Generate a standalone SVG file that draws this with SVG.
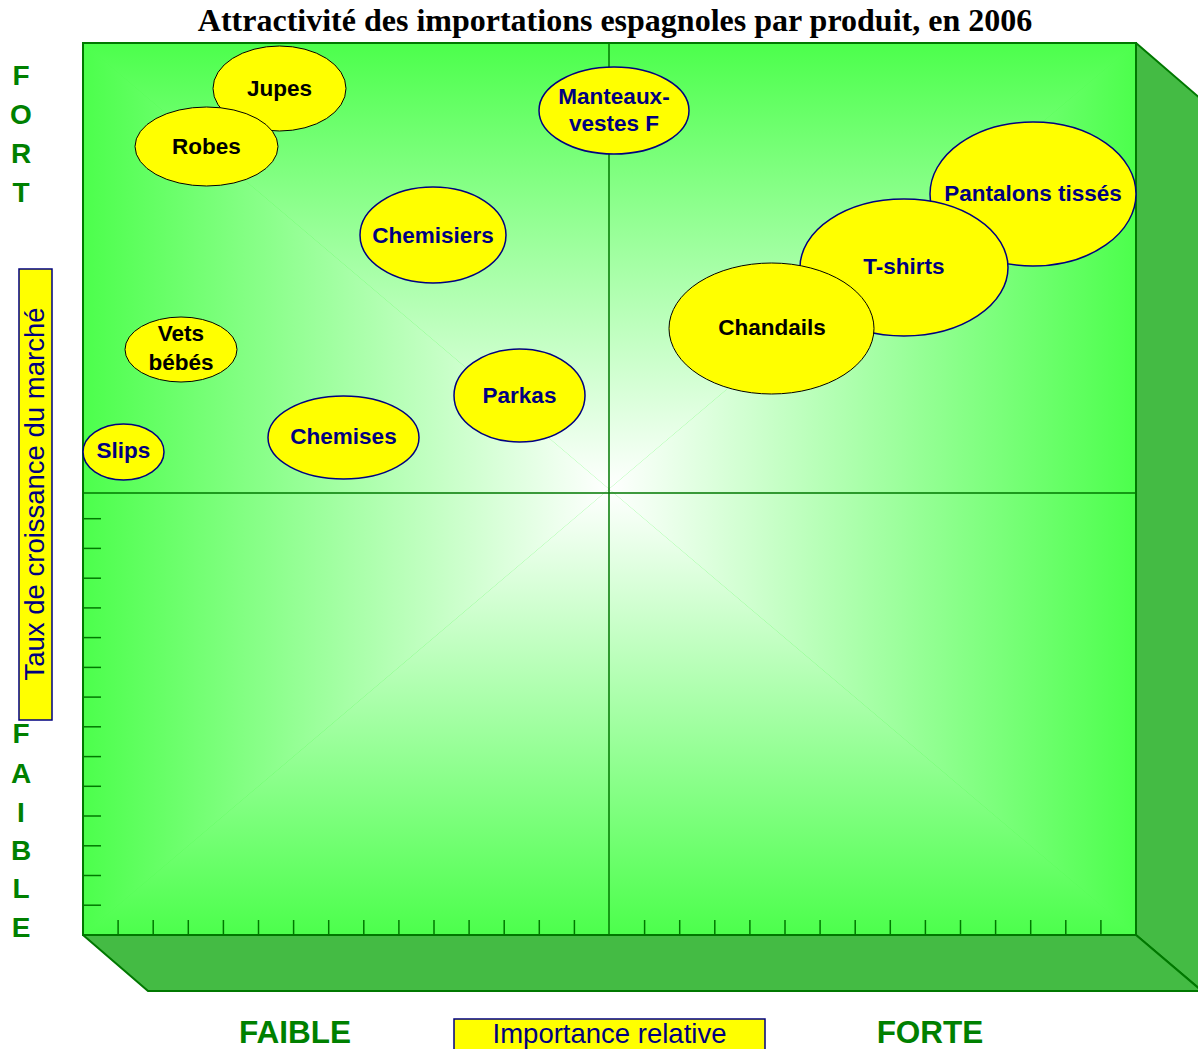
<svg xmlns="http://www.w3.org/2000/svg" width="1198" height="1049" viewBox="0 0 1198 1049">
<style>
.title{font-family:"Liberation Serif","Times New Roman",serif;font-weight:bold;font-size:32px;fill:#000}
.axl{font-family:"Liberation Sans",Arial,sans-serif;font-weight:bold;font-size:28px;fill:#008000}
.axb{font-family:"Liberation Sans",Arial,sans-serif;font-weight:bold;font-size:31.5px;fill:#008000}
.ax{font-family:"Liberation Sans",Arial,sans-serif;font-size:27.5px;fill:#000080}
.box{fill:#ffff00;stroke:#000080;stroke-width:1.5}
.side{fill:#44bb44;stroke:#007800;stroke-width:2;stroke-linejoin:round}
.grid{stroke:#007800;stroke-width:1.5;fill:none}
.tick{stroke:#007800;stroke-width:1.5}
.eb{fill:#ffff00;stroke:#000;stroke-width:1}
.en{fill:#ffff00;stroke:#000080;stroke-width:1.5}
.tb{font-family:"Liberation Sans",Arial,sans-serif;font-weight:bold;font-size:22.5px;fill:#000;text-anchor:middle}
.tn{font-family:"Liberation Sans",Arial,sans-serif;font-weight:bold;font-size:22.5px;fill:#000080;text-anchor:middle}
</style>
<defs>
<linearGradient id="gT" gradientUnits="userSpaceOnUse" x1="0" y1="43" x2="0" y2="489"><stop offset="0" stop-color="#4cff4c"/><stop offset="1" stop-color="#ffffff"/></linearGradient>
<linearGradient id="gB" gradientUnits="userSpaceOnUse" x1="0" y1="935" x2="0" y2="489"><stop offset="0" stop-color="#4cff4c"/><stop offset="1" stop-color="#ffffff"/></linearGradient>
<linearGradient id="gL" gradientUnits="userSpaceOnUse" x1="83" y1="0" x2="609" y2="0"><stop offset="0" stop-color="#4cff4c"/><stop offset="1" stop-color="#ffffff"/></linearGradient>
<linearGradient id="gR" gradientUnits="userSpaceOnUse" x1="1136" y1="0" x2="609" y2="0"><stop offset="0" stop-color="#4cff4c"/><stop offset="1" stop-color="#ffffff"/></linearGradient>
</defs>
<rect width="1198" height="1049" fill="#ffffff"/>
<text class="title" x="615" y="31" text-anchor="middle">Attractivité des importations espagnoles par produit, en 2006</text>

<g id="chart-frame">
<polygon class="side" points="1136,43 1202,100 1202,991 1136,935"/>
<polygon class="side" points="83,935 148,991 1202,991 1136,935"/>
<rect x="83" y="43" width="1053" height="892" fill="#4cff4c"/>
<polygon points="83,43 1136,43 609,489" fill="url(#gT)"/>
<polygon points="83,935 1136,935 609,489" fill="url(#gB)"/>
<polygon points="83,43 83,935 609,489" fill="url(#gL)"/>
<polygon points="1136,43 1136,935 609,489" fill="url(#gR)"/>
<rect x="83" y="43" width="1053" height="892" fill="none" stroke="#007800" stroke-width="2"/>
</g>

<g id="connectors">
<line class="grid" x1="609" y1="43" x2="609" y2="935"/>
<line class="grid" x1="83" y1="493" x2="1136" y2="493"/>
<g id="ticks-y">
<line class="tick" x1="83" y1="518.7" x2="101" y2="518.7"/>
<line class="tick" x1="83" y1="548.4" x2="101" y2="548.4"/>
<line class="tick" x1="83" y1="578.2" x2="101" y2="578.2"/>
<line class="tick" x1="83" y1="607.9" x2="101" y2="607.9"/>
<line class="tick" x1="83" y1="637.6" x2="101" y2="637.6"/>
<line class="tick" x1="83" y1="667.4" x2="101" y2="667.4"/>
<line class="tick" x1="83" y1="697.1" x2="101" y2="697.1"/>
<line class="tick" x1="83" y1="726.8" x2="101" y2="726.8"/>
<line class="tick" x1="83" y1="756.6" x2="101" y2="756.6"/>
<line class="tick" x1="83" y1="786.3" x2="101" y2="786.3"/>
<line class="tick" x1="83" y1="816.0" x2="101" y2="816.0"/>
<line class="tick" x1="83" y1="845.8" x2="101" y2="845.8"/>
<line class="tick" x1="83" y1="875.5" x2="101" y2="875.5"/>
<line class="tick" x1="83" y1="905.2" x2="101" y2="905.2"/>
</g>
<g id="ticks-x">
<line class="tick" x1="118.1" y1="920" x2="118.1" y2="935"/>
<line class="tick" x1="153.2" y1="920" x2="153.2" y2="935"/>
<line class="tick" x1="188.3" y1="920" x2="188.3" y2="935"/>
<line class="tick" x1="223.4" y1="920" x2="223.4" y2="935"/>
<line class="tick" x1="258.5" y1="920" x2="258.5" y2="935"/>
<line class="tick" x1="293.6" y1="920" x2="293.6" y2="935"/>
<line class="tick" x1="328.7" y1="920" x2="328.7" y2="935"/>
<line class="tick" x1="363.8" y1="920" x2="363.8" y2="935"/>
<line class="tick" x1="398.9" y1="920" x2="398.9" y2="935"/>
<line class="tick" x1="434.0" y1="920" x2="434.0" y2="935"/>
<line class="tick" x1="469.1" y1="920" x2="469.1" y2="935"/>
<line class="tick" x1="504.2" y1="920" x2="504.2" y2="935"/>
<line class="tick" x1="539.3" y1="920" x2="539.3" y2="935"/>
<line class="tick" x1="574.4" y1="920" x2="574.4" y2="935"/>
<line class="tick" x1="644.6" y1="920" x2="644.6" y2="935"/>
<line class="tick" x1="679.7" y1="920" x2="679.7" y2="935"/>
<line class="tick" x1="714.8" y1="920" x2="714.8" y2="935"/>
<line class="tick" x1="749.9" y1="920" x2="749.9" y2="935"/>
<line class="tick" x1="785.0" y1="920" x2="785.0" y2="935"/>
<line class="tick" x1="820.1" y1="920" x2="820.1" y2="935"/>
<line class="tick" x1="855.2" y1="920" x2="855.2" y2="935"/>
<line class="tick" x1="890.3" y1="920" x2="890.3" y2="935"/>
<line class="tick" x1="925.4" y1="920" x2="925.4" y2="935"/>
<line class="tick" x1="960.5" y1="920" x2="960.5" y2="935"/>
<line class="tick" x1="995.6" y1="920" x2="995.6" y2="935"/>
<line class="tick" x1="1030.7" y1="920" x2="1030.7" y2="935"/>
<line class="tick" x1="1065.8" y1="920" x2="1065.8" y2="935"/>
<line class="tick" x1="1100.9" y1="920" x2="1100.9" y2="935"/>
</g>
</g>

<g id="axis-labels">
<text class="axl" x="21" y="85" text-anchor="middle">F</text>
<text class="axl" x="21" y="124" text-anchor="middle">O</text>
<text class="axl" x="21" y="163" text-anchor="middle">R</text>
<text class="axl" x="21" y="202" text-anchor="middle">T</text>
<rect class="box" x="19" y="269" width="33" height="451"/>
<text class="ax" transform="translate(44,494) rotate(-90)" text-anchor="middle">Taux de croissance du marché</text>
<text class="axl" x="21" y="743" text-anchor="middle">F</text>
<text class="axl" x="21" y="783" text-anchor="middle">A</text>
<text class="axl" x="21" y="822" text-anchor="middle">I</text>
<text class="axl" x="21" y="860" text-anchor="middle">B</text>
<text class="axl" x="21" y="898" text-anchor="middle">L</text>
<text class="axl" x="21" y="937" text-anchor="middle">E</text>
<text class="axb" x="295" y="1043" text-anchor="middle">FAIBLE</text>
<rect class="box" x="454" y="1019" width="311" height="40"/>
<text class="ax" x="609.5" y="1043" text-anchor="middle">Importance relative</text>
<text class="axb" x="930" y="1043" text-anchor="middle">FORTE</text>
</g>

<g id="node-jupes"><ellipse class="eb" cx="279.5" cy="88.5" rx="66.5" ry="42.5"/><text class="tb" x="279.5" y="96">Jupes</text></g>
<g id="node-robes"><ellipse class="eb" cx="206.5" cy="146.5" rx="71.5" ry="39.5"/><text class="tb" x="206.5" y="154">Robes</text></g>
<g id="node-manteaux"><ellipse class="en" cx="614" cy="110.5" rx="75" ry="43.5"/><text class="tn" x="614" y="104">Manteaux-</text><text class="tn" x="614" y="131">vestes F</text></g>
<g id="node-chemisiers"><ellipse class="en" cx="433" cy="235" rx="73" ry="48"/><text class="tn" x="433" y="243">Chemisiers</text></g>
<g id="node-pantalons"><ellipse class="en" cx="1033" cy="194" rx="103" ry="72"/><text class="tn" x="1033" y="201">Pantalons tissés</text></g>
<g id="node-tshirts"><ellipse class="en" cx="904" cy="267.5" rx="104" ry="68.5"/><text class="tn" x="904" y="274">T-shirts</text></g>
<g id="node-chandails"><ellipse class="eb" cx="771.5" cy="328.5" rx="102.5" ry="65.5"/><text class="tb" x="772" y="335">Chandails</text></g>
<g id="node-vets"><ellipse class="eb" cx="181" cy="349.5" rx="56" ry="32.5"/><text class="tb" x="181" y="341">Vets</text><text class="tb" x="181" y="370">bébés</text></g>
<g id="node-slips"><ellipse class="en" cx="123.5" cy="452" rx="40.5" ry="28"/><text class="tn" x="123.5" y="458">Slips</text></g>
<g id="node-chemises"><ellipse class="en" cx="343.5" cy="437.5" rx="75.5" ry="41.5"/><text class="tn" x="343.5" y="444">Chemises</text></g>
<g id="node-parkas"><ellipse class="en" cx="519.5" cy="395.5" rx="65.5" ry="46.5"/><text class="tn" x="519.5" y="403">Parkas</text></g>
</svg>
